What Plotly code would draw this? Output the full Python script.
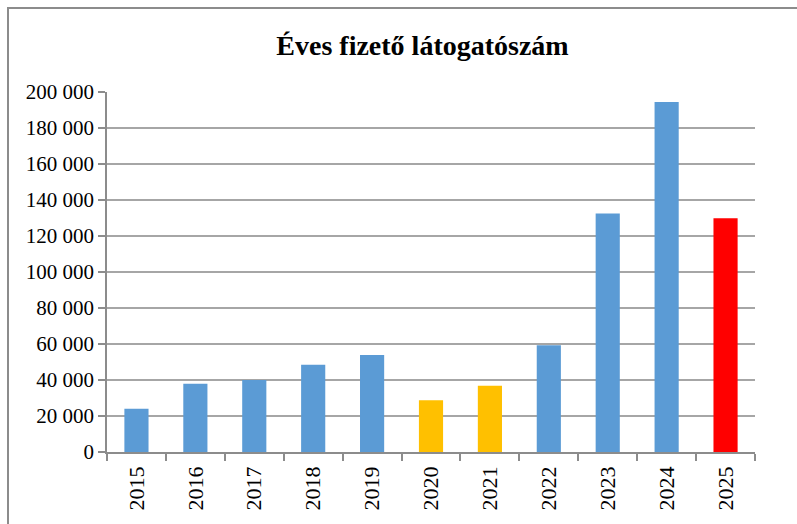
import plotly.graph_objects as go

years = ["2015", "2016", "2017", "2018", "2019", "2020", "2021", "2022", "2023", "2024", "2025"]
visitors = [24000, 37900, 40000, 48500, 53900, 28700, 36800, 59300, 132500, 194500, 129900]
bar_colors = ["#5B9BD5", "#5B9BD5", "#5B9BD5", "#5B9BD5", "#5B9BD5", "#FFC000", "#FFC000",
              "#5B9BD5", "#5B9BD5", "#5B9BD5", "#FF0000"]
y_tickvals = [0, 20000, 40000, 60000, 80000, 100000, 120000, 140000, 160000, 180000, 200000]
y_ticktext = ["0", "20 000", "40 000", "60 000", "80 000", "100 000", "120 000", "140 000",
              "160 000", "180 000", "200 000"]
title_text = "Éves fizető látogatószám"

W, H = 797, 524
ML, MR, MT, MB = 107, 42, 92, 72
PW, PH = W - ML - MR, H - MT - MB
SERIF = "Liberation Serif"

fig = go.Figure(go.Bar(x=years, y=visitors, marker=dict(color=bar_colors, line=dict(width=0)),
                       width=0.41))

def px_to_paper_x(px):
    return (px - ML) / PW

def px_to_paper_y(py):
    return (H - MB - py) / PH

frame_color = "#8C8C8C"
fig.add_shape(type="line", xref="paper", yref="paper",
              x0=px_to_paper_x(7), x1=px_to_paper_x(800), y0=px_to_paper_y(8), y1=px_to_paper_y(8),
              line=dict(color=frame_color, width=2))
fig.add_shape(type="line", xref="paper", yref="paper",
              x0=px_to_paper_x(8), x1=px_to_paper_x(8), y0=px_to_paper_y(8), y1=px_to_paper_y(530),
              line=dict(color=frame_color, width=2))

fig.update_layout(
    width=W, height=H,
    margin=dict(l=ML, r=MR, t=MT, b=MB),
    paper_bgcolor="white", plot_bgcolor="white",
    showlegend=False,
    font=dict(family=SERIF, color="black"),
    title=dict(text="<b>" + title_text + "</b>", xref="container", yref="container",
               x=422.5 / W, y=1 - 45 / H, xanchor="center", yanchor="middle",
               font=dict(size=28, family=SERIF, color="black")),
    xaxis=dict(type="category", tickangle=-90, tickfont=dict(size=22, family=SERIF, color="black"),
               showline=True, linecolor="#8C8C8C", linewidth=1.5,
               ticks="outside", tickson="boundaries", ticklen=7, tickcolor="#8C8C8C", tickwidth=1.5,
               ticklabelstandoff=4, showgrid=False),
    yaxis=dict(range=[0, 200000], tickvals=y_tickvals, ticktext=y_ticktext,
               tickfont=dict(size=21, family=SERIF, color="black"),
               showline=True, linecolor="#8C8C8C", linewidth=1.5,
               ticks="outside", ticklen=7, tickcolor="#8C8C8C", tickwidth=1.5,
               showgrid=True, gridcolor="#A6A6A6", gridwidth=1.5, zeroline=False),
)

fig.write_html("out.html", config={"displayModeBar": False},
               post_script="document.body.style.margin='0';document.body.style.padding='0';")
